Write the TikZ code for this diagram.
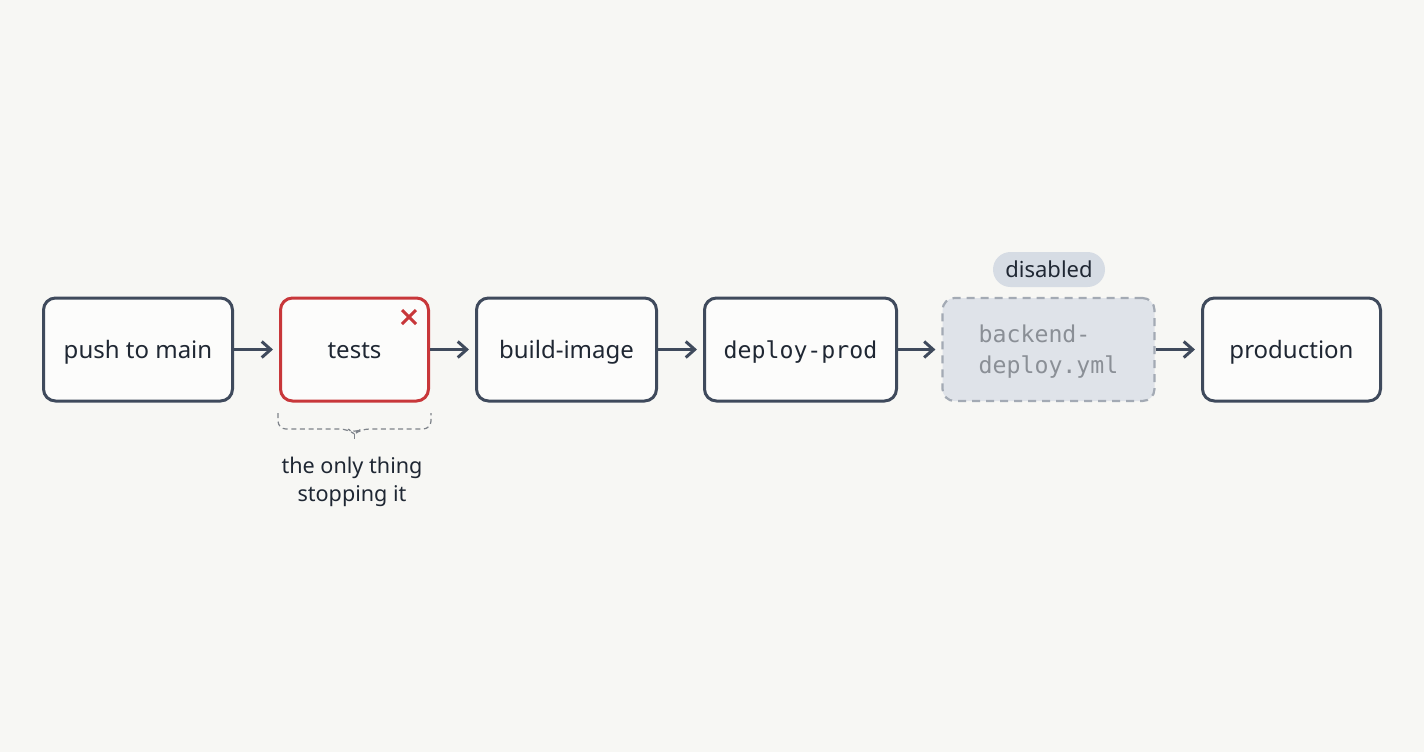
\documentclass[tikz,border=0pt]{standalone}
\usepackage{fontspec}
\setmainfont{Noto Sans}
\setmonofont{DejaVu Sans Mono}
\usetikzlibrary{arrows.meta,positioning,backgrounds}

\definecolor{bgpaper}{HTML}{F7F7F4}
\definecolor{slate}{HTML}{3F4A5C}
\definecolor{inkdark}{HTML}{1F2733}
\definecolor{failred}{HTML}{C8373A}
\definecolor{offgray}{HTML}{8A8F96}
\definecolor{offline}{HTML}{A3AAB4}
\definecolor{offfill}{HTML}{DFE3E9}
\definecolor{pillfill}{HTML}{D6DCE4}
\definecolor{bracegray}{HTML}{7E838A}

\begin{document}
\begin{tikzpicture}[x=0.5pt,y=-0.5pt]
			\tikzstyle{Stage}	= [rectangle, rounded corners=6pt, draw=slate, line width=1.5pt, fill=white!60!bgpaper, minimum height=51.5pt, inner sep=0pt, text=inkdark, font=\fontsize{12}{14}\selectfont]
			\tikzstyle{OneLine}	= [text height=10.4pt, text depth=1.4pt]
			\tikzstyle{Failed}	= [draw=failred]
			\tikzstyle{Mono}	= [font=\ttfamily\fontsize{11.6}{15.5}\selectfont]
			\tikzstyle{Off}		= [draw=offline, dashed, dash pattern=on 4pt off 3pt, line width=1.1pt, fill=offfill, text=offgray]
			\tikzstyle{Pill}	= [rectangle, rounded corners=8.75pt, fill=pillfill, minimum width=56pt, minimum height=17.5pt, inner sep=0pt, text=inkdark, font=\fontsize{11}{13}\selectfont]
			\tikzstyle{Flow}	= [line width=1.5pt, slate, -{Straight Barb[length=4.5pt,width=8pt]}, shorten >=3pt]
			\tikzstyle{Note}	= [bracegray, line width=0.6pt, dash pattern=on 2.5pt off 1.8pt, rounded corners=4pt]

			\fill [bgpaper] (0,0) rectangle (1424,752);
			\useasboundingbox (0,0) rectangle (1424,752);

			\node (push) at (138,349.5) [Stage][OneLine][minimum width=94.5pt] {push to main};
			\node (tests) at (354.5,349.5) [Stage][OneLine][Failed][minimum width=74pt] {tests};
			\node (build) at (566.5,349.5) [Stage][OneLine][minimum width=90pt] {build-image};
			\node (deploy) at (800.5,349.5) [Stage][OneLine][Mono][minimum width=96pt] {deploy-prod};
			\node (backend) at (1048.5,349.5) [Stage][Mono][Off][minimum width=106pt, align=left, text depth=-1.5pt] {backend-\\deploy.yml};
			\node (prod) at (1291.5,349.5) [Stage][OneLine][minimum width=89pt] {production};
			\node (disabled) at (1049,269.5) [Pill] {disabled};

			\draw [failred, line width=1.5pt] (402,310) -- (416,324);
			\draw [failred, line width=1.5pt] (416,310) -- (402,324);

			\draw (push) to (tests) [Flow];
			\draw (tests) to (build) [Flow];
			\draw (build) to (deploy) [Flow];
			\draw (deploy) to (backend) [Flow];
			\draw (backend) to (prod) [Flow];

			\coordinate (braceL) at (278,413);
			\coordinate (braceR) at (431,413);
			\coordinate (braceTip) at (354.5,441);
			\draw [Note] (braceL) -- (278,429) -- (348,429) -- (354.5,434) -- (361,429) -- (431,429) -- (braceR);
			\draw [Note, rounded corners=0pt] (354.5,434) -- (braceTip);

			\node (why) at (352,481.5) [align=center, text=inkdark, font=\fontsize{10.8}{14}\selectfont] {the only thing\\stopping it};
		\end{tikzpicture}
\end{document}
